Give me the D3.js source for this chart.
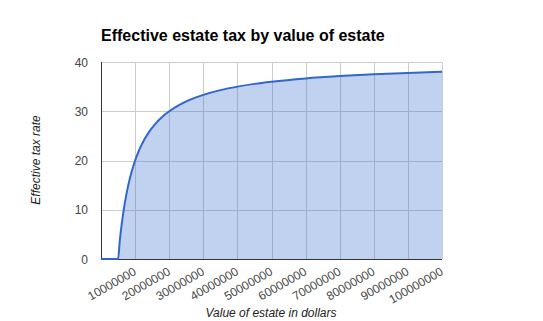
<!DOCTYPE html>
<html><head><meta charset="utf-8">
<script src="https://cdn.jsdelivr.net/npm/d3@7"></script>
<style>body{margin:0;background:#fff}svg{display:block}</style>
</head><body>
<svg id="c" width="543" height="321"></svg>
<script>
// estate value in millions of dollars
const estateValues = [0, 5, 5.5, 6, 6.5, 7, 8, 9, 10, 11, 12, 14, 16, 18, 20, 23, 26, 30, 35, 40, 45, 50, 60, 70, 80, 90, 100];
// effective tax rate in percent
const taxRates = [0, 0, 3.64, 6.67, 9.23, 11.43, 15, 17.78, 20, 21.82, 23.33, 25.71, 27.5, 28.89, 30, 31.3, 32.31, 33.33, 34.29, 35, 35.56, 36, 36.67, 37.14, 37.5, 37.78, 38];
const xTicks = [10000000, 20000000, 30000000, 40000000, 50000000, 60000000, 70000000, 80000000, 90000000, 100000000];
const yTicks = [0, 10, 20, 30, 40];

const data = estateValues.map((v, i) => ({x: v * 1e6, y: taxRates[i]}));
const svg = d3.select("#c");
const L = 101, R = 442, T = 62, B = 259;
const x = d3.scaleLinear().domain([0, 100000000]).range([L, R]);
const y = d3.scaleLinear().domain([0, 40]).range([B, T]);
const FONT = "Arial, 'Liberation Sans', sans-serif";

// gridlines
svg.append("g").selectAll("line").data(xTicks).join("line")
  .attr("x1", d => Math.round(x(d)) + 0.5).attr("x2", d => Math.round(x(d)) + 0.5)
  .attr("y1", T).attr("y2", B).attr("stroke", "#cccccc").attr("stroke-width", 1);
svg.append("g").selectAll("line").data(yTicks.filter(d => d > 0)).join("line")
  .attr("x1", L).attr("x2", R)
  .attr("y1", d => Math.round(y(d)) + 0.5).attr("y2", d => Math.round(y(d)) + 0.5)
  .attr("stroke", "#cccccc").attr("stroke-width", 1);

const curve = d3.curveMonotoneX;
svg.append("path").datum(data)
  .attr("d", d3.area().x(d => x(d.x)).y0(y(0)).y1(d => y(d.y)).curve(curve))
  .attr("fill", "#3366cc").attr("fill-opacity", 0.3);

// axis lines
svg.append("line").attr("x1", L + 0.5).attr("x2", L + 0.5).attr("y1", T).attr("y2", B + 1)
  .attr("stroke", "#333333").attr("stroke-width", 1);
svg.append("line").attr("x1", L).attr("x2", R).attr("y1", B + 0.5).attr("y2", B + 0.5)
  .attr("stroke", "#333333").attr("stroke-width", 1);

svg.append("path").datum(data)
  .attr("d", d3.line().x(d => x(d.x)).y(d => y(d.y)).curve(curve))
  .attr("fill", "none").attr("stroke", "#3366cc").attr("stroke-width", 2);

// y tick labels
svg.append("g").selectAll("text").data(yTicks).join("text")
  .attr("x", 88).attr("y", d => y(d) + 4.5).attr("text-anchor", "end")
  .attr("font-family", FONT).attr("font-size", 12).attr("fill", "#444444")
  .text(d => d);

// x tick labels
svg.append("g").selectAll("text").data(xTicks).join("text")
  .attr("transform", d => `translate(${x(d) + 2},${B + 15}) rotate(-30)`)
  .attr("text-anchor", "end")
  .attr("font-family", FONT).attr("font-size", 12).attr("fill", "#444444")
  .text(d => d);

// title
svg.append("text").attr("x", 101).attr("y", 41)
  .attr("font-family", FONT).attr("font-size", 16).attr("font-weight", "bold").attr("fill", "#000")
  .text("Effective estate tax by value of estate");

// axis titles
svg.append("text").attr("x", 271).attr("y", 317).attr("text-anchor", "middle")
  .attr("font-family", FONT).attr("font-size", 12).attr("font-style", "italic").attr("fill", "#222")
  .text("Value of estate in dollars");
svg.append("text").attr("transform", "translate(40,160) rotate(-90)").attr("text-anchor", "middle")
  .attr("font-family", FONT).attr("font-size", 12).attr("font-style", "italic").attr("fill", "#222")
  .text("Effective tax rate");
</script>
</body></html>
